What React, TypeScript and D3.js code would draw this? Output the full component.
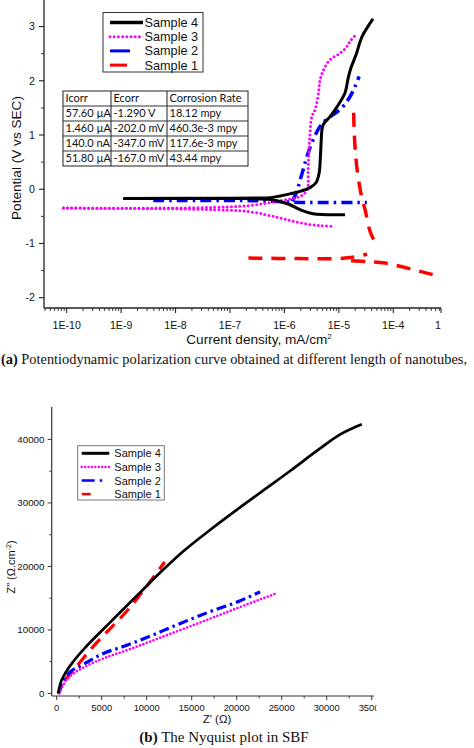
import React from 'react';
import * as d3 from 'd3';

// ---------- shared series info ----------
const seriesNames = ['Sample 4', 'Sample 3', 'Sample 2', 'Sample 1'];
const seriesColors = ['#000000', '#ff00ff', '#0000ff', '#ff0000'];

// ---------- (a) polarization curves: [current density mA/cm2, potential V] ----------
const s4Anodic: [number, number][] = [
  [1.1e-9, -0.17], [1e-8, -0.17], [1e-7, -0.167], [3.2e-7, -0.162], [5.5e-7, -0.155], [8.3e-7, -0.125],
  [1.27e-6, -0.085], [1.95e-6, -0.04], [2.95e-6, 0.03], [3.8e-6, 0.12], [4.35e-6, 0.3], [4.55e-6, 0.54],
  [4.75e-6, 0.91], [4.9e-6, 1.1], [5.2e-6, 1.2], [6.9e-6, 1.34], [9.25e-6, 1.52], [1.3e-5, 1.78],
  [1.49e-5, 2.06], [1.67e-5, 2.24], [2.07e-5, 2.48], [2.66e-5, 2.81], [4.24e-5, 3.14],
];
const s4Cathodic: [number, number][] = [
  [1.1e-9, -0.17], [1e-7, -0.17], [5.5e-7, -0.19], [8.3e-7, -0.225], [1.27e-6, -0.286],
  [1.95e-6, -0.378], [3.35e-6, -0.452], [1.3e-5, -0.47],
];
const s3Anodic: [number, number][] = [
  [8.7e-11, -0.347], [2.8e-8, -0.34], [2.3e-7, -0.3], [8.3e-7, -0.21], [1.95e-6, -0.13], [2.61e-6, -0.01],
  [2.73e-6, 0.36], [2.81e-6, 0.67], [2.96e-6, 1.04], [3.19e-6, 1.34], [3.66e-6, 1.47], [4.22e-6, 1.77],
  [4.53e-6, 2.02], [5.21e-6, 2.2], [6.92e-6, 2.39], [1.06e-5, 2.51], [1.4e-5, 2.63], [1.61e-5, 2.73],
  [2.14e-5, 2.87],
];
const s3Cathodic: [number, number][] = [
  [8.7e-11, -0.347], [2.8e-8, -0.37], [2.3e-7, -0.415], [8.3e-7, -0.53], [1.95e-6, -0.62],
  [4.53e-6, -0.67], [8.2e-6, -0.686],
];
const s2Cathodic: [number, number][] = [
  [3.9e-9, -0.207], [2.3e-7, -0.21], [9.5e-7, -0.23], [1.95e-6, -0.244], [3.27e-5, -0.244],
];
const s2Anodic: [number, number][] = [
  [1.4e-6, -0.22], [1.69e-6, -0.04], [1.95e-6, 0.175], [2.21e-6, 0.36], [2.4e-6, 0.49], [2.73e-6, 0.67],
  [3.37e-6, 0.91], [4.53e-6, 1.16], [5.85e-6, 1.28], [1.13e-5, 1.5], [1.61e-5, 1.71], [2.0e-5, 1.9],
  [2.36e-5, 2.08],
];
const s1Upper: [number, number][] = [
  [2.18e-7, -1.269], [1.95e-6, -1.279], [9.3e-6, -1.279], [1.61e-5, -1.26], [3.3e-5, -1.199],
];
const s1Lower: [number, number][] = [
  [1.68e-5, -1.319], [3.46e-5, -1.338], [7.1e-5, -1.362], [5.4e-4, -1.578],
];
const s1Anodic: [number, number][] = [
  [1.87e-5, 1.41], [1.91e-5, 1.1], [2.0e-5, 0.73], [2.17e-5, 0.36], [2.57e-5, -0.1],
  [3.04e-5, -0.38], [3.76e-5, -0.78], [5.06e-5, -1.06],
];

const topXTickValues = [1e-10, 1e-9, 1e-8, 1e-7, 1e-6, 1e-5, 1e-4];
const topXTickLabels = ['1E-10', '1E-9', '1E-8', '1E-7', '1E-6', '1E-5', '1E-4'];
const topXEndLabel = '1';
const topYTicks = [-2, -1, 0, 1, 2, 3];

// corrosion table
const tableHeader = ['Icorr', 'Ecorr', 'Corrosion Rate'];
const icorrValues = ['57.60 µA', '1.460 µA', '140.0 nA', '51.80 µA'];
const ecorrValues = ['-1.290 V', '-202.0 mV', '-347.0 mV', '-167.0 mV'];
const rateValues = ['18.12 mpy', '460.3e-3 mpy', '117.6e-3 mpy', '43.44 mpy'];

// ---------- (b) Nyquist: [Z' ohm, Z'' ohm.cm-2] ----------
const nyq4: [number, number][] = [
  [150, 0], [400, 1500], [1000, 3300], [2000, 5300], [3000, 6950], [4000, 8450], [5200, 10150],
  [7000, 12700], [9300, 15950], [12000, 19700], [14000, 22300], [17000, 25700], [20000, 28900],
  [23000, 32000], [26000, 35100], [29000, 38300], [31500, 40800], [33900, 42400],
];
const nyq3: [number, number][] = [
  [300, 0], [800, 1500], [1500, 2700], [3000, 4100], [5000, 5400], [8000, 6900], [12000, 9050],
  [16000, 11200], [20000, 13400], [24300, 15700],
];
const nyq2: [number, number][] = [
  [200, 0], [600, 1500], [1100, 2800], [3000, 4600], [5200, 6300], [7400, 7400], [10000, 8800],
  [13000, 10600], [16700, 12700], [20400, 14600], [22600, 16000],
];
const nyq1: [number, number][] = [
  [800, 2000], [1700, 3400], [4000, 7300], [6000, 10300], [8000, 13300], [10000, 16900], [12000, 20700],
];
const botXTicks = [0, 5000, 10000, 15000, 20000, 25000, 30000, 35000];
const botYTicks = [0, 10000, 20000, 30000, 40000];

// ---------- styles ----------
const styles = [
  { dash: undefined as string | undefined, width: 3, cap: 'butt' },
  { dash: '0 4.2', width: 3, cap: 'round' },
  { dash: '11 5 2.5 5', width: 3.5, cap: 'butt' },
  { dash: '14 9', width: 3.5, cap: 'butt' },
];

const SANS = 'Arial, "Liberation Sans", sans-serif';
const SERIF = '"Times New Roman", "Liberation Serif", serif';

export default function App() {
  // ---- top plot scales ----
  const xTop = d3.scaleLog().domain([3.83e-11, 7.53e-4]).range([44, 441]);
  const yTop = d3.scaleLinear().domain([-2.19, 3.49]).range([308, 0]);
  const lineTop = d3
    .line<[number, number]>()
    .x((d) => xTop(d[0]))
    .y((d) => yTop(d[1]))
    .curve(d3.curveCatmullRom.alpha(0.5));

  const topSeries: { idx: number; data: [number, number][] }[] = [
    { idx: 3, data: s1Upper },
    { idx: 3, data: s1Lower },
    { idx: 3, data: s1Anodic },
    { idx: 2, data: s2Cathodic },
    { idx: 2, data: s2Anodic },
    { idx: 1, data: s3Cathodic },
    { idx: 1, data: s3Anodic },
    { idx: 0, data: s4Cathodic },
    { idx: 0, data: s4Anodic },
  ];

  const topMinor: number[] = [];
  for (let e = -11; e <= -4; e++) {
    for (let m = 2; m <= 9; m++) {
      const v = m * Math.pow(10, e);
      if (v > xTop.domain()[0] && v < xTop.domain()[1]) topMinor.push(v);
    }
  }
  const topYMinor = d3.range(-2, 3.5, 0.5).filter((v) => !Number.isInteger(v));

  // ---- bottom plot scales ----
  const xBot = d3.scaleLinear().domain([-555, 35255]).range([51.7, 374]);
  const yBot = d3.scaleLinear().domain([-400, 45100]).range([696, 407]);
  const lineBot = d3
    .line<[number, number]>()
    .x((d) => xBot(d[0]))
    .y((d) => yBot(d[1]))
    .curve(d3.curveMonotoneX);
  const botSeries: { idx: number; data: [number, number][] }[] = [
    { idx: 3, data: nyq1 },
    { idx: 2, data: nyq2 },
    { idx: 1, data: nyq3 },
    { idx: 0, data: nyq4 },
  ];
  const botXMinor = d3.range(2500, 35300, 5000);
  const botYMinor = d3.range(5000, 45000, 10000);

  // table geometry
  const colX = [63, 111, 167, 248];
  const rowY = d3.range(6).map((i) => 91 + i * 15);
  const tableRows = [tableHeader, ...icorrValues.map((v, i) => [v, ecorrValues[i], rateValues[i]])];

  return (
    <svg
      width={474}
      height={748}
      style={{ position: 'absolute', left: 0, top: 0, background: '#fff' }}
      fontFamily={SANS}
    >
      <defs>
        <clipPath id="botclip">
          <rect x={0} y={0} width={376.5} height={748} />
        </clipPath>
      </defs>
      <rect x={0} y={0} width={474} height={748} fill="#fff" />

      {/* ================= TOP PLOT ================= */}
      <line x1={xTop.range()[0]} x2={xTop.range()[1]} y1={yTop.range()[0]} y2={yTop.range()[0]} stroke="#222" strokeWidth={1.3} />
      <line x1={xTop.range()[0]} x2={xTop.range()[0]} y1={yTop.range()[0]} y2={yTop.range()[1]} stroke="#222" strokeWidth={1.3} />
      {topXTickValues.map((v, i) => (
        <g key={'tx' + i}>
          <line x1={xTop(v)} x2={xTop(v)} y1={yTop.range()[0]} y2={yTop.range()[0] + 5} stroke="#222" strokeWidth={1.1} />
          <text x={xTop(v)} y={329} fontSize={10.6} textAnchor="middle" fill="#111">
            {topXTickLabels[i]}
          </text>
        </g>
      ))}
      <line x1={xTop.range()[1]} x2={xTop.range()[1]} y1={yTop.range()[0]} y2={yTop.range()[0] + 5} stroke="#222" strokeWidth={1.1} />
      <text x={xTop.range()[1] - 3} y={329} fontSize={10.6} textAnchor="middle" fill="#111">
        {topXEndLabel}
      </text>
      {topMinor.map((v, i) => (
        <line key={'tm' + i} x1={xTop(v)} x2={xTop(v)} y1={yTop.range()[0]} y2={yTop.range()[0] + 3} stroke="#222" strokeWidth={0.9} />
      ))}
      {topYTicks.map((v) => (
        <g key={'ty' + v}>
          <line x1={xTop.range()[0] - 5} x2={xTop.range()[0]} y1={yTop(v)} y2={yTop(v)} stroke="#222" strokeWidth={1.1} />
          <text x={35} y={yTop(v) + 3.8} fontSize={10.6} textAnchor="end" fill="#111">
            {v}
          </text>
        </g>
      ))}
      {topYMinor.map((v) => (
        <line key={'tym' + v} x1={xTop.range()[0] - 3} x2={xTop.range()[0]} y1={yTop(v)} y2={yTop(v)} stroke="#222" strokeWidth={0.9} />
      ))}
      <text x={259} y={344} fontSize={13.6} textAnchor="middle" fill="#111">
        Current density, mA/cm
        <tspan dy={-5} fontSize={8}>2</tspan>
      </text>
      <text transform="translate(21,158) rotate(-90)" fontSize={13.6} textAnchor="middle" fill="#111">
        Potential (V vs SEC)
      </text>

      {topSeries.map((s, i) => (
        <path
          key={'ts' + i}
          d={lineTop(s.data) || ''}
          fill="none"
          stroke={seriesColors[s.idx]}
          strokeWidth={styles[s.idx].width}
          strokeDasharray={styles[s.idx].dash}
          strokeLinecap={styles[s.idx].cap as any}
          strokeLinejoin="round"
        />
      ))}

      {/* legend */}
      <rect x={103} y={12.5} width={100} height={59.5} fill="#fff" stroke="#333" strokeWidth={1} />
      {seriesNames.map((n, i) => {
        const yy = 22.5 + i * 14.2;
        return (
          <g key={'tl' + i}>
            <line
              x1={110}
              x2={143}
              y1={yy}
              y2={yy}
              stroke={seriesColors[i]}
              strokeWidth={i === 0 ? 3.5 : 3}
              strokeDasharray={i === 0 ? undefined : i === 1 ? '0 4.2' : i === 2 ? '20 13' : '17 20'}
              strokeLinecap={i === 1 ? 'round' : 'butt'}
            />
            <text x={144.5} y={yy + 4.5} fontSize={12.7} fill="#111">
              {n}
            </text>
          </g>
        );
      })}

      {/* table */}
      <g>
        <rect x={colX[0]} y={rowY[0]} width={colX[3] - colX[0]} height={rowY[5] - rowY[0]} fill="#fff" stroke="#333" strokeWidth={1.1} />
        {rowY.slice(1, 5).map((y, i) => (
          <line key={'rl' + i} x1={colX[0]} x2={colX[3]} y1={y} y2={y} stroke="#333" strokeWidth={1.1} />
        ))}
        {colX.slice(1, 3).map((x, i) => (
          <line key={'cl' + i} x1={x} x2={x} y1={rowY[0]} y2={rowY[5]} stroke="#333" strokeWidth={1.1} />
        ))}
        {tableRows.map((row, r) =>
          row.map((cell, c) => (
            <text key={'tc' + r + c} x={colX[c] + 2.5} y={rowY[r] + 11.3} fontSize={11} fontFamily='Lato, "Open Sans", sans-serif' fill="#111">
              {cell}
            </text>
          ))
        )}
      </g>

      {/* caption a */}
      <text x={1} y={364} fontSize={14.5} fontFamily={SERIF} fill="#111" textLength={466} lengthAdjust="spacingAndGlyphs">
        <tspan fontWeight="bold">(a)</tspan> Potentiodynamic polarization curve obtained at different length of nanotubes,
      </text>

      {/* ================= BOTTOM PLOT ================= */}
      <line x1={xBot.range()[0]} x2={xBot.range()[1]} y1={yBot.range()[0]} y2={yBot.range()[0]} stroke="#333" strokeWidth={1.2} />
      <line x1={xBot.range()[0]} x2={xBot.range()[0]} y1={yBot.range()[0]} y2={yBot.range()[1]} stroke="#333" strokeWidth={1.2} />
      <g clipPath="url(#botclip)">
        {botXTicks.map((v) => (
          <g key={'bx' + v}>
            <line x1={xBot(v)} x2={xBot(v)} y1={yBot.range()[0]} y2={yBot.range()[0] + 4} stroke="#333" strokeWidth={1} />
            <text x={xBot(v)} y={711} fontSize={9.4} textAnchor="middle" fill="#111">
              {v}
            </text>
          </g>
        ))}
      </g>
      {botXMinor.map((v) => (
        <line key={'bxm' + v} x1={xBot(v)} x2={xBot(v)} y1={yBot.range()[0]} y2={yBot.range()[0] + 2.5} stroke="#333" strokeWidth={0.9} />
      ))}
      {botYTicks.map((v) => (
        <g key={'by' + v}>
          <line x1={xBot.range()[0] - 4} x2={xBot.range()[0]} y1={yBot(v)} y2={yBot(v)} stroke="#333" strokeWidth={1} />
          <text x={44.5} y={yBot(v) + 3.5} fontSize={9.8} textAnchor="end" fill="#111">
            {v}
          </text>
        </g>
      ))}
      {botYMinor.map((v) => (
        <line key={'bym' + v} x1={xBot.range()[0] - 2.5} x2={xBot.range()[0]} y1={yBot(v)} y2={yBot(v)} stroke="#333" strokeWidth={0.9} />
      ))}
      <text x={217} y={723} fontSize={11.5} textAnchor="middle" fill="#111">
        Z' (Ω)
      </text>
      <text transform="translate(15,567) rotate(-90)" fontSize={11} textAnchor="middle" fill="#111">
        Z" (Ω.cm<tspan dy={-4} fontSize={7}>-2</tspan>
        <tspan dy={4}>)</tspan>
      </text>

      {botSeries.map((s, i) => (
        <path
          key={'bs' + i}
          d={lineBot(s.data) || ''}
          fill="none"
          stroke={seriesColors[s.idx]}
          strokeWidth={styles[s.idx].width - 0.3}
          strokeDasharray={s.idx === 1 ? '0 3.6' : s.idx === 2 ? '10 4 2.5 4' : s.idx === 3 ? '13 8' : undefined}
          strokeLinecap={styles[s.idx].cap as any}
          strokeLinejoin="round"
        />
      ))}

      {/* bottom legend */}
      <rect x={77.7} y={445.7} width={86.6} height={54.3} fill="#fff" stroke="#777" strokeWidth={1} />
      {seriesNames.map((n, i) => {
        const yy = 453.3 + i * 13.6;
        return (
          <g key={'bl' + i}>
            <line
              x1={81.7}
              x2={109.3}
              y1={yy}
              y2={yy}
              stroke={seriesColors[i]}
              strokeWidth={i === 0 ? 3 : 2.5}
              strokeDasharray={i === 0 ? undefined : i === 1 ? '0 3.4' : i === 2 ? '13 5 2.5 20' : '9 30'}
              strokeLinecap={i === 1 ? 'round' : 'butt'}
            />
            <text x={114.3} y={yy + 4} fontSize={11} fill="#111">
              {n}
            </text>
          </g>
        );
      })}

      {/* caption b */}
      <text x={224} y={742} fontSize={15} fontFamily={SERIF} textAnchor="middle" fill="#111">
        <tspan fontWeight="bold">(b)</tspan> The Nyquist plot in SBF
      </text>
    </svg>
  );
}
